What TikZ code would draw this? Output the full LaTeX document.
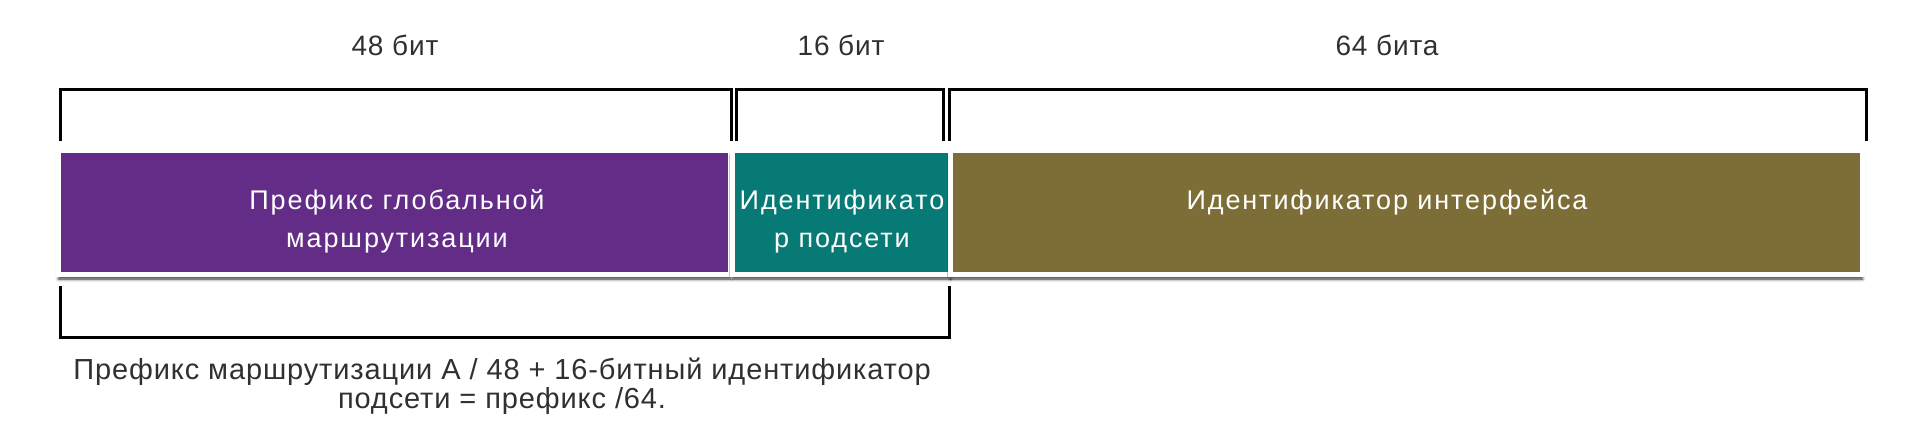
\documentclass[tikz,border=0pt]{standalone}
\usepackage{fontspec}
\setmainfont{Liberation Sans}
\newfontfamily\labelfont[LetterSpace=3]{Liberation Sans}
\newfontfamily\fieldfont[LetterSpace=7]{Liberation Sans}
\usetikzlibrary{shadows.blur}

\definecolor{prefpurple}{HTML}{632C87}
\definecolor{subnetteal}{HTML}{087A75}
\definecolor{ifaceolive}{HTML}{7D6E37}
\definecolor{labelgray}{HTML}{303030}

\tikzset{
  bracket/.style={line width=1.5pt,line join=miter,black},
  field/.style={fill=#1,draw=white,line width=2.5pt,
    blur shadow={shadow xshift=0pt,shadow yshift=-2.5pt,shadow blur radius=1.5pt,shadow opacity=80}},
  bits/.style={anchor=base,inner sep=0pt,text=labelgray,font=\labelfont\fontsize{14pt}{14pt}\selectfont},
  fieldtext/.style={anchor=base,inner sep=0pt,align=center,text=white,font=\fieldfont\fontsize{13.5pt}{19pt}\selectfont},
}

\begin{document}
\begin{tikzpicture}[x=0.5pt,y=-0.5pt]
  \useasboundingbox (0,0) rectangle (1920,424);

  % скобки над полями
  \draw[bracket] (60,141) -- (60,89) -- (731,89) -- (731,141);
  \draw[bracket] (736,141) -- (736,89) -- (943,89) -- (943,141);
  \draw[bracket] (949,141) -- (949,89) -- (1866,89) -- (1866,141);

  \node[bits] (b48) at (395,55) {48 бит};
  \node[bits] (b16) at (841,55) {16 бит};
  \node[bits] (b64) at (1387,55) {64 бита};

  % поля адреса
  \path[field=prefpurple] (58.5,150) rectangle (730.5,274);
  \path[field=subnetteal] (732.5,150) rectangle (950.5,274);
  \path[field=ifaceolive] (950.5,150) rectangle (1862.5,274);

  % у двухстрочных узлов base -- по последней строке
  \node[fieldtext] (gprefix) at (397,247) {Префикс глобальной\\маршрутизации};
  \node[fieldtext] (subnet) at (842,247) {Идентификато\\р подсети};
  \node[fieldtext] (iface) at (1387,209) {Идентификатор интерфейса};

  % скобка под префиксом /64
  \draw[bracket] (60,286) -- (60,337) -- (949,337) -- (949,286);
  \node[anchor=base,inner sep=0pt,align=center,text=labelgray,
    font=\labelfont\fontsize{14.5pt}{14.5pt}\selectfont] (prefix64) at (502,408)
    {Префикс маршрутизации A / 48 + 16-битный идентификатор\\подсети = префикс /64.};
\end{tikzpicture}
\end{document}
